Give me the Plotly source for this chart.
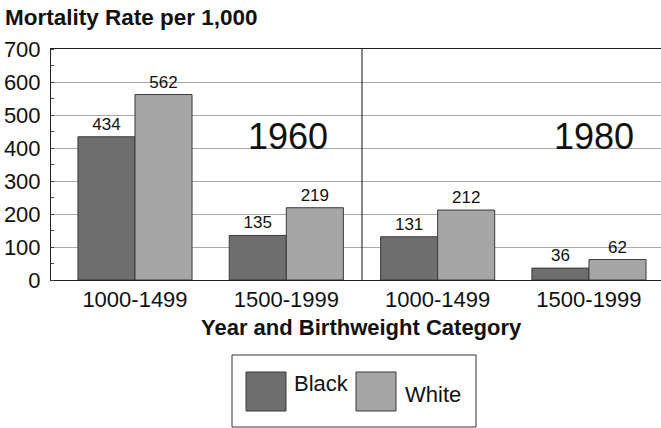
import plotly.graph_objects as go

# Mortality rate per 1,000 live births, by year and birthweight category
categories = ["1000-1499", "1500-1999", "1000-1499", "1500-1999"]
years = ["1960", "1980"]
series_names = ["Black", "White"]
black_rates = [434, 135, 131, 36]
white_rates = [562, 219, 212, 62]
y_ticks = [0, 100, 200, 300, 400, 500, 600, 700]

colors = {"Black": "#6e6e6e", "White": "#a6a6a6"}
outline = "#3a3a3a"
FONT = "Liberation Sans, Arial, sans-serif"

W, H = 661, 428
M_L, M_R, M_T, M_B = 51, 0, 49, 148
PW, PH = W - M_L - M_R, H - M_T - M_B


def px_x(px):
    return (px - M_L) / PW


def px_y(py):
    return (H - M_B - py) / PH


x_pos = list(range(len(categories)))

fig = go.Figure()
for name, vals in zip(series_names, [black_rates, white_rates]):
    fig.add_trace(go.Bar(
        x=x_pos, y=vals, name=name,
        marker=dict(color=colors[name], line=dict(color=outline, width=1)),
        text=[str(v) for v in vals], textposition="outside",
        textfont=dict(size=17, color="#111"),
        cliponaxis=False, showlegend=False,
    ))

# divider between the two years
fig.add_shape(type="line", xref="x", yref="y", x0=1.5, x1=1.5, y0=0, y1=700,
              line=dict(color="#111", width=1))

# year labels
for xi, yr in zip([1.01, 3.03], years):
    fig.add_annotation(x=xi, y=435, xref="x", yref="y", text=yr, showarrow=False,
                       font=dict(size=36, color="#111", family=FONT))

# x-axis title, centred under the bars
fig.add_annotation(x=px_x(361), y=px_y(327), xref="paper", yref="paper",
                   text="<b>Year and Birthweight Category</b>", showarrow=False,
                   xanchor="center", yanchor="middle",
                   font=dict(size=22, color="#111", family=FONT))

# legend box drawn by hand
fig.add_shape(type="rect", xref="paper", yref="paper",
              x0=px_x(232), x1=px_x(476), y0=px_y(355), y1=px_y(427),
              line=dict(color="#333", width=1), fillcolor="white")
legend_items = [(246, 372, 292, 383), (356, 372, 403, 394)]
for name, (sx, sy, tx, ty) in zip(series_names, legend_items):
    fig.add_shape(type="rect", xref="paper", yref="paper",
                  x0=px_x(sx), x1=px_x(sx + 40), y0=px_y(sy), y1=px_y(sy + 39),
                  line=dict(color=outline, width=1), fillcolor=colors[name])
    fig.add_annotation(x=px_x(tx), y=px_y(ty), xref="paper", yref="paper",
                       text=name, showarrow=False, xanchor="left", yanchor="middle",
                       font=dict(size=22, color="#111", family=FONT))

fig.update_layout(
    width=W, height=H,
    margin=dict(l=M_L, r=M_R, t=M_T, b=M_B, pad=0),
    paper_bgcolor="white", plot_bgcolor="white",
    barmode="group", bargap=0.246, bargroupgap=0,
    font=dict(family=FONT, color="#111"),
    title=dict(text="<b>Mortality Rate per 1,000</b>", xref="container", yref="container",
               x=5 / W, y=1 - 17 / H, xanchor="left", yanchor="middle",
               font=dict(size=22.5, color="#111", family=FONT)),
    xaxis=dict(
        range=[-0.555, 3.476], tickvals=x_pos, ticktext=categories,
        tickfont=dict(size=22, color="#111"), ticks="", showgrid=False,
        showline=True, linecolor="#222", linewidth=1, mirror=True,
        zeroline=False,
    ),
    yaxis=dict(
        range=[0, 700], tickvals=y_ticks, tickfont=dict(size=22, color="#111"),
        showgrid=True, gridcolor="#a8a8a8", gridwidth=1,
        showline=True, linecolor="#222", linewidth=1, zeroline=False,
        ticks="", ticklabelstandoff=5,
        minor=dict(dtick=50, ticks="inside", ticklen=3, tickcolor="#444", showgrid=False),
    ),
)

fig.write_html("out.html")
